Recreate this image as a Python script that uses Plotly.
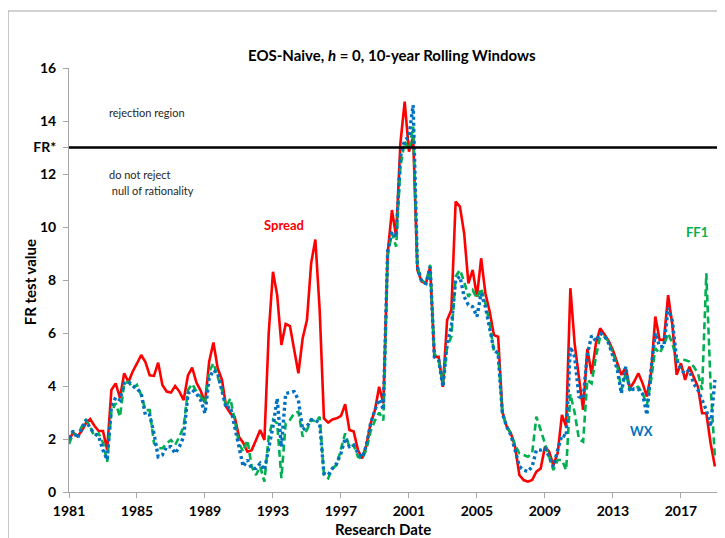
import pandas as pd
import plotly.graph_objects as go

# quarterly research dates 1981Q1 .. 2019Q1
dates = pd.date_range("1981-01-01", periods=153, freq="QS")

spread = [1.95, 2.25, 2.1, 2.3, 2.6, 2.75, 2.5, 2.3, 2.3, 1.6,
          3.85, 4.1, 3.55, 4.48, 4.15, 4.55, 4.85, 5.17, 4.9, 4.4,
          4.38, 4.88, 4.04, 3.79, 3.75, 4.0, 3.79, 3.47, 4.4, 4.69,
          4.13, 3.82, 3.37, 4.92, 5.64, 4.67, 4.23, 3.22, 2.97, 2.84,
          2.09, 1.86, 1.52, 1.58, 1.95, 2.34, 1.96, 5.99, 8.31, 7.43,
          5.55, 6.34, 6.26, 5.4, 4.48, 5.8, 6.49, 8.63, 9.53, 6.87,
          2.78, 2.62, 2.74, 2.78, 2.87, 3.31, 2.34, 2.28, 1.58,
          1.27, 1.76, 2.59, 3.09, 3.97, 3.35, 9.0, 10.64, 9.63, 13.16,
          14.73, 12.84, 13.4, 8.38, 7.94, 7.87, 8.5, 5.1, 5.1, 3.97,
          6.49, 6.87, 10.96, 10.77, 9.76, 7.87, 8.38, 7.37, 8.82, 7.5,
          6.81, 5.92, 5.86, 3.03, 2.47, 2.21, 1.71, 0.64, 0.45, 0.39,
          0.45, 0.77, 0.89, 1.71, 1.52, 1.01, 1.46, 2.91, 2.47,
          7.69, 5.6, 4.4, 3.1, 5.4, 4.45, 5.6, 6.18, 5.95, 5.7,
          5.35, 4.9, 4.42, 4.7, 3.91, 4.16, 4.48, 4.1, 3.6, 4.5,
          6.62, 5.74, 5.74, 7.43, 6.3, 4.42, 4.86, 4.23, 4.73, 4.35,
          3.97, 2.97, 2.97, 1.84, 0.96]

ff1 = [1.81, 2.21, 2.11, 2.47, 2.72, 2.47, 2.09, 2.21, 1.86, 1.14,
       3.03, 3.35, 2.84, 4.1, 4.16, 3.91, 4.04, 3.66, 3.09, 3.09,
       1.84, 1.65, 1.65, 1.84, 1.96, 1.77, 2.09, 2.47, 3.85, 4.08,
       3.79, 3.6, 3.35, 4.54, 4.86, 4.35, 3.85, 3.22, 3.53, 2.72,
       1.84, 1.52, 1.96, 0.96, 0.64, 0.96, 0.39, 2.09, 2.72, 2.59,
       0.52, 2.59, 2.72, 2.97, 3.03, 2.09, 2.34, 2.74, 2.65, 2.84,
       0.64, 0.52, 0.89, 1.02, 1.58, 2.21, 1.71, 1.77, 1.33,
       1.25, 1.6, 2.3, 2.7, 3.0, 2.7, 8.9, 9.76, 9.26, 12.28,
       13.22, 12.9, 13.79, 8.5, 8.0, 7.87, 8.57, 5.23, 4.98, 4.1,
       5.48, 5.86, 8.13, 8.38, 7.94, 7.37, 7.62, 7.31, 7.69, 7.12,
       6.36, 5.3, 5.23, 2.97, 2.47, 2.21, 1.77, 1.46, 1.4, 1.33,
       1.46, 2.84, 2.34, 1.84, 1.33, 0.83, 1.21, 1.21, 0.83,
       3.7, 3.0, 2.0, 1.9, 4.23, 4.1, 5.1, 5.86, 5.86, 5.67,
       5.23, 4.79, 3.85, 4.48, 3.85, 3.91, 3.97, 3.72, 3.28, 4.23,
       5.42, 5.23, 5.55, 5.99, 5.61, 4.98, 4.98, 4.98, 4.92, 4.73,
       4.48, 3.85, 8.25, 4.0, 1.3]

wx = [2.03, 2.31, 2.03, 2.4, 2.72, 2.4, 2.21, 2.09, 1.58, 1.21,
      3.22, 3.57, 3.47, 4.1, 4.16, 4.01, 3.91, 3.72, 2.9, 2.9,
      2.21, 1.33, 1.4, 1.71, 1.71, 1.46, 1.71, 2.09, 3.72, 3.85,
      3.72, 3.47, 2.97, 4.29, 4.6, 4.48, 3.79, 3.16, 3.22, 2.47,
      1.58, 0.96, 1.21, 0.89, 0.89, 1.08, 0.83, 1.58, 2.47, 3.53,
      1.71, 3.72, 3.76, 3.79, 3.47, 2.34, 2.47, 2.72, 2.72, 2.59,
      0.7, 0.64, 0.89, 1.08, 1.46, 2.03, 1.71, 1.77, 1.46,
      1.3, 1.75, 2.6, 3.1, 3.5, 3.1, 9.1, 9.82, 9.63, 12.65,
      13.28, 13.4, 14.6, 8.5, 7.94, 7.87, 8.5, 5.1, 4.98, 3.97,
      5.61, 6.24, 8.0, 8.13, 7.37, 7.06, 6.99, 6.62, 7.5, 6.99,
      6.11, 5.36, 5.23, 2.97, 2.47, 2.15, 1.58, 0.96, 0.83, 0.77,
      0.96, 1.58, 1.58, 1.65, 1.33, 0.96, 1.58, 2.15, 2.09,
      5.48, 5.1, 3.6, 3.53, 5.2, 5.9, 5.7, 5.99, 5.9, 5.61,
      5.15, 4.65, 3.72, 4.73, 3.8, 3.9, 3.88, 3.7, 2.91, 4.65,
      6.0, 5.48, 5.5, 6.95, 6.45, 5.0, 4.6, 4.48, 4.6, 4.1,
      3.85, 3.47, 3.09, 2.47, 4.23]

fr_star = 13.0
ytick_vals = [0, 2, 4, 6, 8, 10, 12, 14, 16, 13]
ytick_text = ["0", "2", "4", "6", "8", "10", "12", "14", "16", "FR*"]

RED = "#FF0000"
GREEN = "#00B050"
BLUE = "#0070C0"
FONT = "Lato"

fig = go.Figure()
fig.add_trace(go.Scatter(x=dates, y=spread, mode="lines", name="Spread",
                         line=dict(color=RED, width=2.6)))
fig.add_trace(go.Scatter(x=dates, y=ff1, mode="lines", name="FF1",
                         line=dict(color=GREEN, width=2.6, dash="7px,4px")))
fig.add_trace(go.Scatter(x=dates, y=wx, mode="lines", name="WX",
                         line=dict(color=BLUE, width=3.4, dash="3px,3px")))

# FR* critical value line
fig.add_shape(type="line", xref="paper", yref="y", x0=0, x1=1,
              y0=fr_star, y1=fr_star, line=dict(color="black", width=2.5))
# chart-area border
fig.add_shape(type="rect", xref="paper", yref="paper",
              x0=-0.0941, x1=1.03, y0=-0.14, y1=1.1344,
              line=dict(color="#A6A6A6", width=1.2))

ann = []
def add_text(text, xp, yp, size, color, bold=False, xanchor="center", angle=0):
    ann.append(dict(text=text, x=xp, y=yp, xref="paper", yref="paper",
                    showarrow=False, xanchor=xanchor, yanchor="middle",
                    textangle=angle,
                    font=dict(family=FONT, size=size, color=color,
                              weight="bold" if bold else "normal")))

add_text("EOS-Naive, <i>h</i> = 0, 10-year Rolling Windows", 0.498, 1.031, 15, "black", True)
add_text("rejection region", 0.0586, 0.896, 11, "#262626", xanchor="left")
add_text("do not reject", 0.0586, 0.748, 11, "#262626", xanchor="left")
add_text(" null of rationality", 0.0586, 0.710, 11, "#262626", xanchor="left")
add_text("Spread", 0.332, 0.630, 13, RED, True)
add_text("FF1", 0.969, 0.613, 13, GREEN, True)
add_text("WX", 0.884, 0.144, 13, BLUE, True)
add_text("Research Date", 0.485, -0.088, 15, "black", True)
add_text("FR test value", -0.060, 0.495, 15, "black", True, angle=-90)

# the page places the figure 8px from the top-left corner, margins compensate
fig.update_layout(
    width=725, height=538,
    margin=dict(l=61, r=16, t=60, b=54),
    paper_bgcolor="white", plot_bgcolor="white",
    showlegend=False,
    annotations=ann,
    font=dict(family=FONT, color="black"),
    xaxis=dict(
        type="date",
        range=["1981-01-01", "2019-02-15"],
        tick0="1981-01-01", dtick="M48", tickformat="%Y",
        showgrid=False, zeroline=False,
        showline=True, linecolor="#A6A6A6", linewidth=1,
        ticks="outside", ticklen=5, tickcolor="#A6A6A6",
        tickfont=dict(family=FONT, size=14, color="black", weight="bold"),
        ticklabelstandoff=1,
    ),
    yaxis=dict(
        range=[0, 16],
        tickmode="array", tickvals=ytick_vals, ticktext=ytick_text,
        showgrid=False, zeroline=False,
        showline=True, linecolor="#A6A6A6", linewidth=1,
        ticks="outside", ticklen=5, tickcolor="#A6A6A6",
        tickfont=dict(family=FONT, size=14, color="black", weight="bold"),
        ticklabelstandoff=4,
    ),
)

fig.write_html("out.html")
